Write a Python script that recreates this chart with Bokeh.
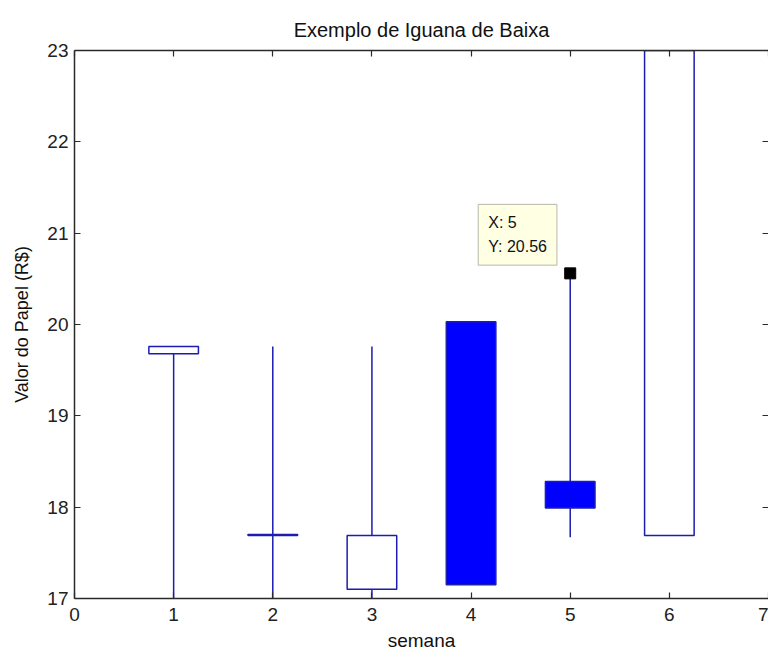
from bokeh.plotting import figure
from bokeh.models import LinearAxis, Label, FixedTicker, ColumnDataSource
from bokeh.embed import file_html
from bokeh.resources import INLINE

# Weekly prices (R$)
weeks = [1, 2, 3, 4, 5, 6]
high = [19.76, 19.76, 19.76, 20.03, 20.56, 23.00]
low = [16.50, 16.50, 16.90, 17.15, 17.67, 17.69]
open_ = [19.68, 17.70, 17.10, 20.03, 18.28, 17.69]
close = [19.76, 17.69, 17.69, 17.15, 17.99, 23.00]

x_ticks = [0, 1, 2, 3, 4, 5, 6, 7]
y_ticks = [17, 18, 19, 20, 21, 22, 23]

# data tip on week 5's high
tip_x, tip_y = 5, 20.56

BLUE = "#0000ff"
EDGE = "#1c1cb0"
AXIS = "#2a2a2a"
FONT = "Liberation Sans"

body_top = [max(o, c) for o, c in zip(open_, close)]
body_bot = [min(o, c) for o, c in zip(open_, close)]
# hollow body when the week closed above its open, filled otherwise
body_fill = ["white" if c > o else BLUE for o, c in zip(open_, close)]

src = ColumnDataSource(dict(
    x=weeks, high=high, low=low,
    left=[w - 0.25 for w in weeks], right=[w + 0.25 for w in weeks],
    top=body_top, bottom=body_bot, fill=body_fill,
))

p = figure(
    width=768, height=653,
    x_range=(0, 7), y_range=(17, 23),
    title="Exemplo de Iguana de Baixa",
    output_backend="svg", toolbar_location=None,
    min_border_left=74, min_border_right=0,
    min_border_top=50, min_border_bottom=55,
    background_fill_color="white", border_fill_color="white",
)
p.outline_line_color = None
p.grid.visible = False

p.title.text_font = FONT
p.title.text_font_size = "20px"
p.title.text_font_style = "normal"
p.title.text_color = "#111111"
p.title.align = "center"
p.title.standoff = 19

# wicks first, then bodies on top of them
p.segment(x0="x", y0="low", x1="x", y1="high", source=src,
          line_color=EDGE, line_width=1.5)
p.quad(left="left", right="right", top="top", bottom="bottom", source=src,
       fill_color="fill", line_color=EDGE, line_width=1.5)

# data tip marker and its box
p.scatter(x=[tip_x], y=[tip_y], marker="square", size=11,
          fill_color="black", line_color="black")
tip = Label(
    x=tip_x, y=tip_y, x_units="data", y_units="data",
    x_offset=-92, y_offset=69,
    text=f"X: {tip_x}\nY: {tip_y:.2f}",
    text_font=FONT, text_font_size="16px", text_color="#111111",
    text_align="left", text_baseline="top", text_line_height=1.4,
    background_fill_color="#ffffe4", border_line_color="#b8b8a8",
    border_line_width=1, padding=10,
)
p.add_layout(tip)

top_axis = LinearAxis()
right_axis = LinearAxis()
p.add_layout(top_axis, "above")
p.add_layout(right_axis, "right")

xa = p.below[0]
ya = p.left[0]
xa.ticker = FixedTicker(ticks=x_ticks)
top_axis.ticker = FixedTicker(ticks=x_ticks)
ya.ticker = FixedTicker(ticks=y_ticks)
right_axis.ticker = FixedTicker(ticks=y_ticks)

for ax in (xa, ya, top_axis, right_axis):
    ax.axis_line_color = AXIS
    ax.axis_line_width = 1.5
    ax.major_tick_line_color = AXIS
    ax.major_tick_line_width = 1.2
    ax.major_tick_in = 6
    ax.major_tick_out = 0
    ax.minor_tick_line_color = None
    ax.major_label_text_font = FONT
    ax.major_label_text_font_size = "19px"
    ax.major_label_text_color = "#222222"
    ax.axis_label_text_font = FONT
    ax.axis_label_text_font_style = "normal"
    ax.axis_label_text_color = "#111111"

# the top and right edges only carry tick marks
top_axis.major_label_overrides = {t: "" for t in x_ticks}
right_axis.major_label_overrides = {t: "" for t in y_ticks}
for ax in (top_axis, right_axis):
    ax.major_label_text_font_size = "1px"
    ax.major_label_standoff = 0
right_axis.axis_line_color = None

xa.axis_label = "semana"
xa.axis_label_text_font_size = "19px"
xa.major_label_standoff = 9
xa.axis_label_standoff = 6
ya.axis_label = "Valor do Papel (R$)"
ya.axis_label_text_font_size = "18px"
ya.major_label_standoff = 6
ya.axis_label_standoff = 12

open("out.html", "w").write(file_html(p, INLINE))
